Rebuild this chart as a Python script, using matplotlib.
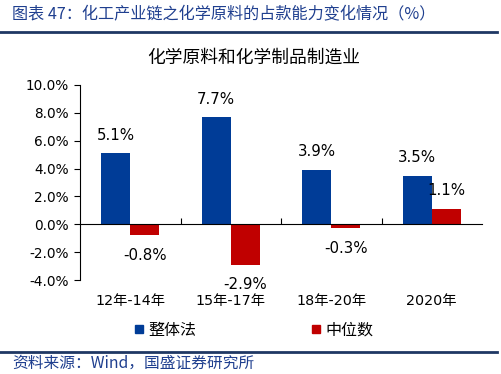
import numpy as np
import matplotlib
matplotlib.use("Agg")
import matplotlib.pyplot as plt
from matplotlib.lines import Line2D

plt.rcParams['font.family'] = ['DejaVu Sans', 'Noto Sans CJK SC']

# data
categories = ['12年-14年', '15年-17年', '18年-20年', '2020年']
overall = [5.1, 7.7, 3.9, 3.5]      # 整体法
median = [-0.8, -2.9, -0.3, 1.1]    # 中位数
series_names = ['整体法', '中位数']
yticks = [-4, -2, 0, 2, 4, 6, 8, 10]

blue = '#003C97'
red = '#C00000'
head_blue = '#1F3F8F'

fig = plt.figure(figsize=(5.01, 3.74), dpi=100)
ax = fig.add_axes([80 / 501, 1 - 280 / 374, 402 / 501, 195 / 374])

x = np.arange(len(categories))
w = 0.29
b1 = ax.bar(x - w / 2, overall, w, color=blue)
b2 = ax.bar(x + w / 2, median, w, color=red)

# value labels
for bars, vals in [(b1, overall), (b2, median)]:
    for rect, v in zip(bars, vals):
        cx = rect.get_x() + rect.get_width() / 2
        off = 18 if v >= 0 else -20
        ax.annotate(f'{v:.1f}%', (cx, v), xytext=(0, off * 0.72),
                    textcoords='offset points', ha='center', va='center',
                    fontsize=10.8, color='#000000')

ax.set_xlim(-0.5, 3.5)
ax.set_ylim(-4, 10)
ax.set_yticks(yticks)
ax.set_yticklabels([f'{t:.1f}%' for t in yticks], fontsize=9.8)
ax.tick_params(axis='y', direction='out', length=4, width=0.8, pad=4)

for s in ['top', 'right']:
    ax.spines[s].set_visible(False)
ax.spines['left'].set_linewidth(0.8)
ax.spines['bottom'].set_position(('data', 0))
ax.spines['bottom'].set_linewidth(0.8)
ax.set_xticks([0.5, 1.5, 2.5])
ax.set_xticklabels([])
ax.tick_params(axis='x', direction='in', length=4, width=0.8)

# category labels at the bottom
sec = ax.secondary_xaxis('bottom')
sec.set_xticks(x)
sec.set_xticklabels(categories, fontsize=10.3)
sec.tick_params(length=0, pad=10)
sec.spines['bottom'].set_visible(False)

# chart title
fig.text(254 / 501, 1 - 58 / 374, '化学原料和化学制品制造业', ha='center', va='center',
         fontsize=12.8, family=['Noto Sans CJK SC'])

# legend
handles = [Line2D([], [], marker='s', linestyle='none', color=blue, markersize=6),
           Line2D([], [], marker='s', linestyle='none', color=red, markersize=6)]
fig.legend(handles, series_names, loc='center', bbox_to_anchor=(254 / 501, 1 - 330 / 374),
           ncol=2, frameon=False, handlelength=0.6, handletextpad=0.3,
           columnspacing=7.2, prop={'family': ['Noto Sans CJK SC'], 'size': 11.5})

# header and footer
fig.text(12 / 501, 1 - 15 / 374, '图表 47：化工产业链之化学原料的占款能力变化情况（%）',
         ha='left', va='center', fontsize=11.6, color=head_blue, style='italic',
         family=['Noto Sans CJK SC', 'DejaVu Sans'])
fig.add_artist(Line2D([0, 497 / 501], [1 - 32 / 374, 1 - 32 / 374], color='#1F3864', lw=2))
fig.add_artist(Line2D([0, 497 / 501], [1 - 352 / 374, 1 - 352 / 374], color='#1F3864', lw=2))
fig.text(12 / 501, 1 - 363 / 374, '资料来源：Wind，国盛证券研究所', ha='left', va='center',
         fontsize=11.3, color=head_blue, style='italic',
         family=['Noto Sans CJK SC', 'DejaVu Sans'])

fig.savefig('out.png', dpi=100)
